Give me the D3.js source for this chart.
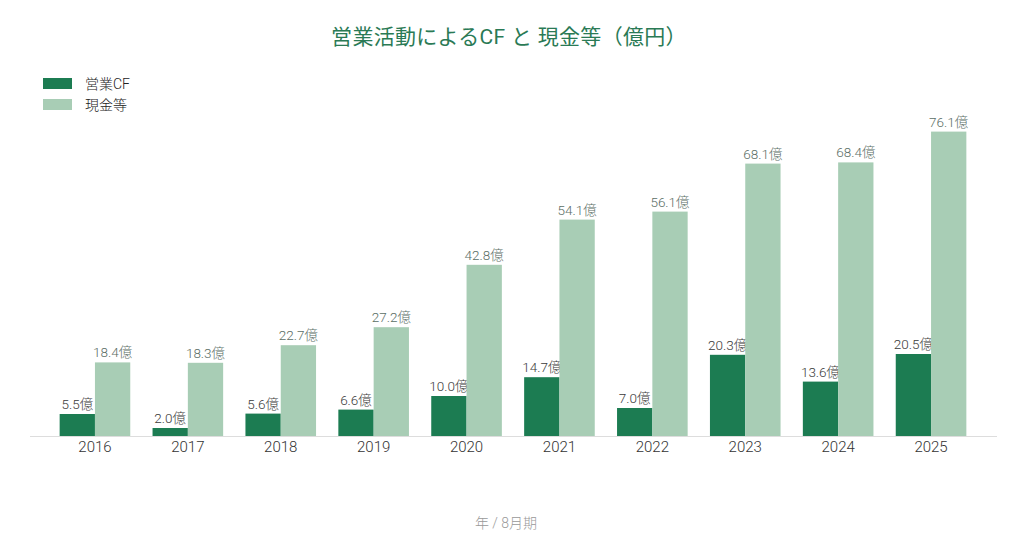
<!DOCTYPE html>
<html><head><meta charset="utf-8">
<script src="https://cdn.jsdelivr.net/npm/d3@7/dist/d3.min.js"></script>
<style>
body{margin:0;background:#fff;}
svg{display:block;font-family:Roboto,"Noto Sans CJK JP",sans-serif;}
</style></head>
<body><svg id="c" width="1011" height="539"></svg>
<script>
const years = ["2016","2017","2018","2019","2020","2021","2022","2023","2024","2025"];
const opCF = [5.5,2.0,5.6,6.6,10.0,14.7,7.0,20.3,13.6,20.5];
const cash = [18.4,18.3,22.7,27.2,42.8,54.1,56.1,68.1,68.4,76.1];
const seriesNames = ["営業CF","現金等"];
const colors = ["#1c7c52","#a8cdb5"];
const labelColors = ["#3a3a3a","#5b6e66"];

const svg = d3.select("#c");
const x0 = d3.scaleBand().domain(years).range([48.5,977.5]).paddingInner(0.24).paddingOuter(0.12);
const x1 = d3.scaleBand().domain([0,1]).range([0,x0.bandwidth()]);
const y = d3.scaleLinear().domain([0,80]).range([436,116]);

svg.append("text").attr("x",509).attr("y",43.5).attr("text-anchor","middle")
  .attr("font-size",21).attr("letter-spacing",0.3).attr("fill","#2a7a55").text("営業活動によるCF と 現金等（億円）");

// legend
seriesNames.forEach((n,i)=>{
  svg.append("rect").attr("x",43).attr("y",78+i*21).attr("width",29).attr("height",11).attr("fill",colors[i]);
  svg.append("text").attr("x",85).attr("y",89+i*21).attr("font-size",14).attr("font-weight",300).attr("fill","#222").text(n);
});

// axis
const ax = svg.append("g").attr("transform","translate(0,436)")
  .call(d3.axisBottom(x0).tickSize(0).tickPadding(5));
ax.select(".domain").remove();
svg.append("line").attr("x1",30).attr("x2",997).attr("y1",436.5).attr("y2",436.5).attr("stroke","#dddddd");
ax.selectAll("text").attr("font-size",15).attr("font-weight",300).attr("fill","#333").attr("font-family",'Roboto,"Noto Sans CJK JP",sans-serif');

const data = [opCF,cash];
data.forEach((vals,si)=>{
  const g = svg.append("g");
  g.selectAll("rect").data(vals).join("rect")
    .attr("x",(d,i)=>x0(years[i])+x1(si)).attr("width",x1.bandwidth())
    .attr("y",d=>y(d)).attr("height",d=>y(0)-y(d)).attr("fill",colors[si]);
  g.selectAll("text").data(vals).join("text")
    .attr("x",(d,i)=>x0(years[i])+x1(si)+x1.bandwidth()/2)
    .attr("y",d=>y(d)-5).attr("text-anchor","middle").attr("font-size",13.5).attr("font-weight",300)
    .attr("fill",labelColors[si]).text(d=>d.toFixed(1)+"億");
});

svg.append("text").attr("x",506).attr("y",528).attr("text-anchor","middle")
  .attr("font-size",14).attr("font-weight",300).attr("fill","#999").text("年 / 8月期");
</script></body></html>
